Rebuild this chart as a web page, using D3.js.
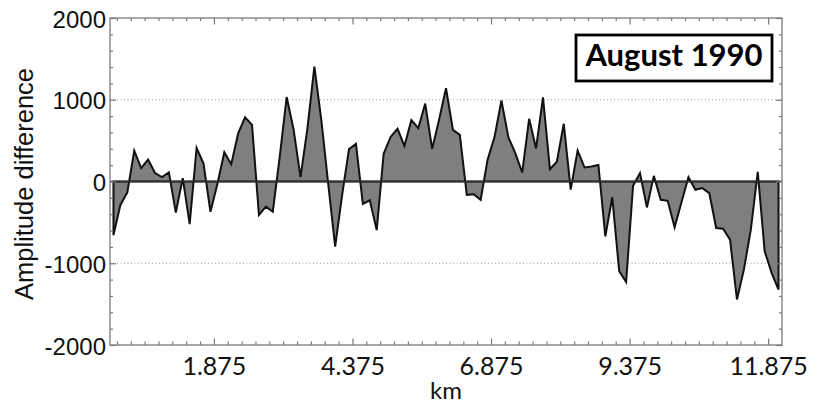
<!DOCTYPE html>
<html>
<head>
<meta charset="utf-8">
<script src="https://cdn.jsdelivr.net/npm/d3@7"></script>
<style>
  html, body { margin: 0; padding: 0; background: #fff; }
  svg { display: block; }
</style>
</head>
<body>
<svg id="chart" width="825" height="403"></svg>
<script>
// ---- data ----
const km = [
  0.0625, 0.1875, 0.3125, 0.4375, 0.5625, 0.6875, 0.8125, 0.9375,
  1.0625, 1.1875, 1.3125, 1.4375, 1.5625, 1.6875, 1.8125, 1.9375,
  2.0625, 2.1875, 2.3125, 2.4375, 2.5625, 2.6875, 2.8125, 2.9375,
  3.0625, 3.1875, 3.3125, 3.4375, 3.5625, 3.6875, 3.8125, 3.9375,
  4.0625, 4.1875, 4.3125, 4.4375, 4.5625, 4.6875, 4.8125, 4.9375,
  5.0625, 5.1875, 5.3125, 5.4375, 5.5625, 5.6875, 5.8125, 5.9375,
  6.0625, 6.1875, 6.3125, 6.4375, 6.5625, 6.6875, 6.8125, 6.9375,
  7.0625, 7.1875, 7.3125, 7.4375, 7.5625, 7.6875, 7.8125, 7.9375,
  8.0625, 8.1875, 8.3125, 8.4375, 8.5625, 8.6875, 8.8125, 8.9375,
  9.0625, 9.1875, 9.3125, 9.4375, 9.5625, 9.6875, 9.8125, 9.9375,
  10.0625, 10.1875, 10.3125, 10.4375, 10.5625, 10.6875, 10.8125, 10.9375,
  11.0625, 11.1875, 11.3125, 11.4375, 11.5625, 11.6875, 11.8125, 11.9375,
  12.0625
];
const amplitudeDiff = [
  -656, -287, -135, 377, 164, 267, 103, 53,
  111, -381, 41, -521, 410, 220, -370, -30,
  357, 212, 588, 786, 692, -410, -308, -369,
  300, 1033, 636, 53, 650, 1406, 755, -30,
  -798, -170, 396, 460, -275, -230, -595, 340,
  545, 645, 435, 750, 652, 953, 399, 755,
  1142, 632, 571, -163, -155, -224, 265, 543,
  991, 543, 347, 110, 767, 404, 1028, 151,
  241, 706, -100, 378, 171, 183, 203, -671,
  -191, -1098, -1228, -53, 102, -317, 69, -224,
  -236, -561, -250, 53, -102, -81, -142, -569,
  -577, -711, -1443, -1077, -589, 118, -854, -1118,
  -1321
];
const xTickValues = [1.875, 4.375, 6.875, 9.375, 11.875];
const xTickLabels = ["1.875", "4.375", "6.875", "9.375", "11.875"];
const yTickValues = [-2000, -1000, 0, 1000, 2000];
const yTickLabels = ["-2000", "-1000", "0", "1000", "2000"];
const gridValues = [-1000, 1000];
const xDomain = [0, 12.125];
const yDomain = [-2000, 2000];
const titleText = "August 1990";
const xTitle = "km";
const yTitle = "Amplitude difference";

// ---- layout ----
const L = 110, R = 782, T = 18, B = 345;
const svg = d3.select("#chart");
const x = d3.scaleLinear().domain(xDomain).range([L, R]);
const y = d3.scaleLinear().domain(yDomain).range([B, T]);

const frameColor = "#7a7a7a";

// minor tick values (not data)
const xMinor = d3.range(0.125, 12.0, 0.25).filter(v => !xTickValues.some(m => Math.abs(m - v) < 1e-6));
const yMinor = d3.range(-2000, 2001, 200).filter(v => !yTickValues.includes(v));

// gridlines
svg.append("g").selectAll("line").data(gridValues).join("line")
  .attr("x1", L).attr("x2", R)
  .attr("y1", d => y(d)).attr("y2", d => y(d))
  .attr("stroke", "#9a9a9a").attr("stroke-width", 1)
  .attr("stroke-dasharray", "1,2.5");

// area
const data = km.map((k, i) => ({ k, v: amplitudeDiff[i] }));
const area = d3.area().x(d => x(d.k)).y0(y(0)).y1(d => y(d.v));
svg.append("path").datum(data)
  .attr("d", area)
  .attr("fill", "#7f7f7f");
svg.append("path").datum(data)
  .attr("d", area)
  .attr("fill", "none").attr("stroke", "#111").attr("stroke-width", 2)
  .attr("stroke-linejoin", "miter");

// zero line
svg.append("line")
  .attr("x1", L).attr("x2", R).attr("y1", y(0)).attr("y2", y(0))
  .attr("stroke", "#333").attr("stroke-width", 1.7);

// axes with inward ticks
function tickG(axis, tx, ty) {
  const g = svg.append("g").attr("transform", `translate(${tx},${ty})`).call(axis);
  g.select(".domain").remove();
  g.selectAll(".tick line").attr("stroke", frameColor).attr("stroke-width", 1.2);
  return g;
}
const xb = tickG(d3.axisBottom(x).tickValues(xTickValues).tickSizeInner(-6.5).tickSizeOuter(0)
  .tickPadding(12).tickFormat((d, i) => xTickLabels[i]), 0, B);
xb.selectAll("text").attr("font-family", "Lato, 'Open Sans', sans-serif").attr("font-size", 25).attr("fill", "#111");
tickG(d3.axisBottom(x).tickValues(xMinor).tickSizeInner(-3.5).tickSizeOuter(0).tickFormat(""), 0, B);
tickG(d3.axisTop(x).tickValues(xTickValues).tickSizeInner(-6.5).tickSizeOuter(0).tickFormat(""), 0, T);
tickG(d3.axisTop(x).tickValues(xMinor).tickSizeInner(-3).tickSizeOuter(0).tickFormat(""), 0, T);
const yl = tickG(d3.axisLeft(y).tickValues(yTickValues).tickSizeInner(-6).tickSizeOuter(0)
  .tickPadding(4).tickFormat((d, i) => yTickLabels[i]), L, 0);
yl.selectAll("text").attr("font-family", "'Liberation Sans', Arial, sans-serif").attr("font-size", 24)
  .attr("fill", "#111").attr("dy", "0.38em");
tickG(d3.axisLeft(y).tickValues(yMinor).tickSizeInner(-3).tickSizeOuter(0).tickFormat(""), L, 0);
tickG(d3.axisRight(y).tickValues(yTickValues).tickSizeInner(-6).tickSizeOuter(0).tickFormat(""), R, 0);
tickG(d3.axisRight(y).tickValues(yMinor).tickSizeInner(-3).tickSizeOuter(0).tickFormat(""), R, 0);

// frame
svg.append("rect").attr("x", L).attr("y", T).attr("width", R - L).attr("height", B - T)
  .attr("fill", "none").attr("stroke", frameColor).attr("stroke-width", 1.3);

// axis titles
svg.append("text").attr("x", (L + R) / 2).attr("y", 399).attr("text-anchor", "middle")
  .attr("font-family", "Lato, 'Open Sans', sans-serif").attr("font-size", 24).attr("fill", "#111")
  .text(xTitle);
svg.append("text").attr("transform", "translate(33,184) rotate(-90)").attr("text-anchor", "middle")
  .attr("font-family", "'Liberation Sans', Arial, sans-serif").attr("font-size", 25.5).attr("fill", "#111")
  .text(yTitle);

// title box
svg.append("rect").attr("x", 576).attr("y", 35).attr("width", 196).attr("height", 46)
  .attr("fill", "#fff").attr("stroke", "#000").attr("stroke-width", 2.8);
svg.append("text").attr("x", 674).attr("y", 66).attr("text-anchor", "middle")
  .attr("font-family", "Lato, 'Open Sans', sans-serif").attr("font-weight", "bold")
  .attr("font-size", 31).attr("fill", "#000").text(titleText);
</script>
</body>
</html>
